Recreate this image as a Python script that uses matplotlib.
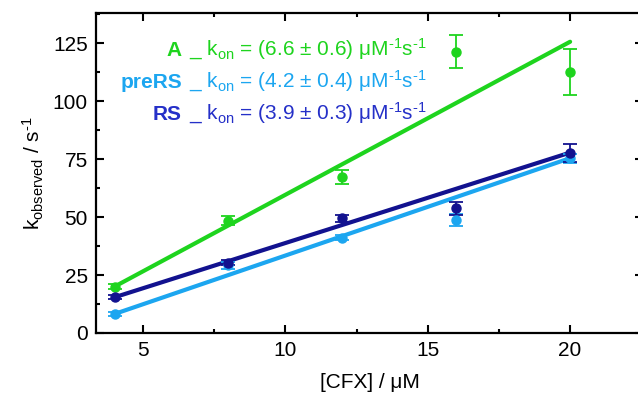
import numpy as np
import matplotlib
matplotlib.use("Agg")
import matplotlib.pyplot as plt
from matplotlib.ticker import MultipleLocator

plt.rcParams['font.family'] = ['Liberation Sans', 'DejaVu Sans']
plt.rcParams['mathtext.fontset'] = 'custom'
plt.rcParams['mathtext.rm'] = 'Liberation Sans'
plt.rcParams['mathtext.it'] = 'Liberation Sans'

### data ###
cfx = [4, 8, 12, 16, 20]

A_k = [20.0, 48.4, 67.4, 121.3, 112.5]
A_err = [1.0, 2.0, 3.0, 7.0, 10.0]
A_fit = (6.6, -6.4)

preRS_k = [8.2, 29.3, 41.1, 48.7, 75.3]
preRS_err = [0.8, 1.5, 1.0, 2.5, 2.0]
preRS_fit = (4.2, -8.6)

RS_k = [15.4, 30.3, 49.4, 53.7, 77.7]
RS_err = [0.8, 1.0, 1.5, 3.0, 4.0]
RS_fit = (3.9, -0.2)

labels = ['A', 'preRS', 'RS']
kon_txt = ['(6.6 ± 0.6)', '(4.2 ± 0.4)', '(3.9 ± 0.3)']

c_A = '#1ED41E'
c_pre = '#1CA6F0'
c_RS = '#12128F'
c_RS_txt = '#2530C8'

fig = plt.figure(figsize=(6.38, 4.04), dpi=100)
ax = fig.add_axes([96/638, 71/404, 547/638, 320/404])

series = [(A_k, A_err, A_fit, c_A), (preRS_k, preRS_err, preRS_fit, c_pre),
          (RS_k, RS_err, RS_fit, c_RS)]
for k, err, fit, col in series:
    ax.errorbar(cfx, k, yerr=err, fmt='o', color=col, ms=6.5,
                elinewidth=1.3, capsize=5, capthick=1.3, zorder=3)
    xx = np.array([cfx[0], cfx[-1]])
    ax.plot(xx, fit[0]*xx + fit[1], color=col, lw=3, zorder=2,
            solid_capstyle='round')

ax.set_xlim(3.35, 22.56)
ax.set_ylim(0, 138)
ax.xaxis.set_major_locator(MultipleLocator(5))
ax.xaxis.set_minor_locator(MultipleLocator(2.5))
ax.yaxis.set_major_locator(MultipleLocator(25))
ax.yaxis.set_minor_locator(MultipleLocator(12.5))
ax.tick_params(which='both', direction='in', top=True, right=True, width=1.5)
ax.tick_params(which='major', length=6, labelsize=15)
ax.tick_params(which='minor', length=3)
ax.tick_params(axis='x', pad=6)
ax.tick_params(axis='y', pad=6)
for s in ax.spines.values():
    s.set_linewidth(1.6)

ax.set_xlabel('[CFX] / μM', fontsize=15, labelpad=9)
ax.set_ylabel('k$_{\\rm observed}$ / s$^{\\rm \u2010 1}$', fontsize=15, labelpad=5)

# legend-like annotation
txt_cols = [c_A, c_pre, c_RS_txt]
ys = [0.866, 0.766, 0.666]
for lab, kt, col, yy in zip(labels, kon_txt, txt_cols, ys):
    ax.text(0.157, yy, lab, transform=ax.transAxes, ha='right', va='baseline',
            fontsize=15, fontweight='bold', color=col)
    ax.text(0.170, yy, '_ k$_{\\rm on}$ = ' + kt + ' μM$^{\\rm \u20101}$s$^{\\rm \u20101}$',
            transform=ax.transAxes, ha='left', va='baseline', fontsize=15, color=col)

plt.savefig('out.png', dpi=100)
